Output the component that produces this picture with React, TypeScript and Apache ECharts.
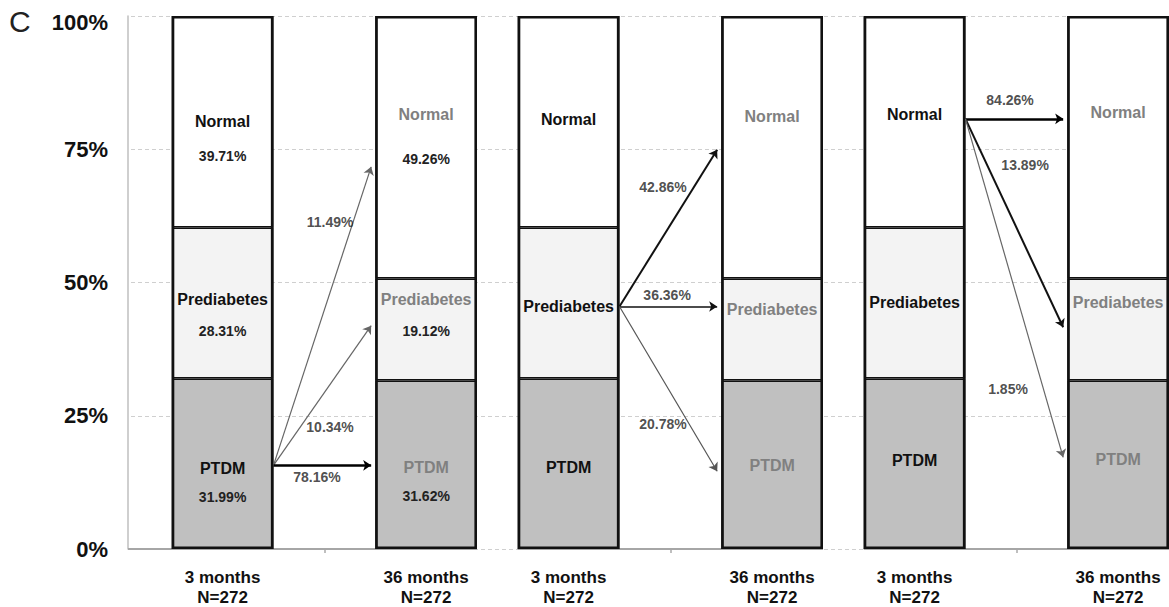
import React, { useEffect, useRef } from "react";
import * as echarts from "echarts";

// ---------------- data ----------------
const panelLetter = "C";
const periods = ["3 months", "36 months", "3 months", "36 months", "3 months", "36 months"];
const sampleSizes = ["N=272", "N=272", "N=272", "N=272", "N=272", "N=272"];
const stateNames = ["PTDM", "Prediabetes", "Normal"];
const ptdmPct = [31.99, 31.62, 31.99, 31.62, 31.99, 31.62];
const prediabetesPct = [28.31, 19.12, 28.31, 19.12, 28.31, 19.12];
const normalPct = [39.71, 49.26, 39.71, 49.26, 39.71, 49.26];
const showSegmentPct = [true, true, false, false, false, false];
const yTickValues = [0, 25, 50, 75, 100];

// transitions (arrows) between 3-month and 36-month bars
const transFromBar = [0, 0, 0, 2, 2, 2, 4, 4, 4];
const transToBar = [1, 1, 1, 3, 3, 3, 5, 5, 5];
const transFromY = [15.7, 15.7, 15.7, 45.5, 45.5, 45.5, 80.7, 80.7, 80.7];
const transToY = [71.7, 41.9, 15.7, 74.9, 45.5, 14.6, 80.7, 41.6, 17.2];
const transLabels = ["11.49%", "10.34%", "78.16%", "42.86%", "36.36%", "20.78%", "84.26%", "13.89%", "1.85%"];
const transLabelX = [9.28, 9.28, 8.64, 25.64, 25.84, 25.64, 42.69, 43.43, 42.59];
const transLabelY = [61.4, 22.8, 13.5, 68.0, 47.6, 23.4, 84.3, 72.1, 30.1];

// ---------------- layout / style ----------------
const CHART_W = 1169;
const CHART_H = 607;
const GRID_LEFT = 131;
const GRID_TOP = 16;
const GRID_BOTTOM = 57;
const AXIS_SHIFT = 3;
const SLOT_COUNT = 51;
const BAR_SLOT = [4, 14, 21, 31, 38, 48];
const BAR_HALF = 2.5;
const ARROW_BACK = 0.2;
const FONT = '"Liberation Sans", Arial, sans-serif';

const segColors = ["#c0c0c0", "#f3f3f3", "#ffffff"];
const labelDy = [
  [19, 17, 3.5, 1, -3.5, -5.5],
  [12, -14.5, 3, -20, -1, -27],
  [17, -10.5, -2, -30.5, -7, -34.5],
];
const labelGap = [
  [29, 29, 20, 20, 20, 20],
  [32, 31, 20, 20, 20, 20],
  [35, 44, 20, 20, 20, 20],
];
const arrowWidth = [1.2, 1.2, 2.5, 2, 1.5, 1.2, 2.5, 2, 1.2];
const arrowColor = ["#666", "#666", "#000", "#111", "#111", "#555", "#000", "#111", "#666"];

function buildOption() {
  const slotPx = (CHART_W - GRID_LEFT) / SLOT_COUNT;
  const categories = new Array(SLOT_COUNT).fill("");
  BAR_SLOT.forEach((s, i) => {
    categories[s] = periods[i] + "\n" + sampleSizes[i];
  });
  const tickSlots = [0, 2, 4].map((b) => (BAR_SLOT[b] + BAR_SLOT[b + 1]) / 2);
  const barWidth = BAR_HALF * 2 * 100 + "%";

  const segs = [ptdmPct, prediabetesPct, normalPct];
  const barSeries = segs.map((vals, si) => {
    const data: any[] = new Array(SLOT_COUNT).fill(null);
    vals.forEach((v, bi) => {
      const is36 = bi % 2 === 1;
      const gap = labelGap[si][bi];
      data[BAR_SLOT[bi]] = {
        value: v,
        label: {
          show: true,
          position: "inside",
          offset: [0, labelDy[si][bi]],
          formatter: showSegmentPct[bi]
            ? `{n|${stateNames[si]}}\n{p|${v.toFixed(2)}%}`
            : `{n|${stateNames[si]}}`,
          rich: {
            n: {
              fontFamily: FONT,
              fontSize: 16,
              fontWeight: "bold",
              color: is36 ? "#808080" : "#111",
              lineHeight: gap,
            },
            p: {
              fontFamily: FONT,
              fontSize: 14,
              fontWeight: "bold",
              color: "#222",
              lineHeight: gap,
            },
          },
        },
      };
    });
    return {
      type: "bar",
      name: stateNames[si],
      stack: "total",
      xAxisIndex: 0,
      yAxisIndex: 0,
      barWidth,
      barGap: "-100%",
      data,
      itemStyle: { color: segColors[si], borderColor: "#111", borderWidth: 1.5 },
      z: 3,
    };
  });

  // outer outline of each bar (sum of its segments)
  const outlineData: any[] = new Array(SLOT_COUNT).fill(null);
  BAR_SLOT.forEach((s, bi) => {
    outlineData[s] = +(ptdmPct[bi] + prediabetesPct[bi] + normalPct[bi]).toFixed(2);
  });
  const outlineSeries = {
    type: "bar",
    name: "outline",
    xAxisIndex: 0,
    yAxisIndex: 0,
    barWidth,
    barGap: "-100%",
    data: outlineData,
    itemStyle: { color: "rgba(0,0,0,0)", borderColor: "#111", borderWidth: 2.6 },
    label: { show: false },
    silent: true,
    z: 4,
  };

  const arrowData = transLabels.map((_, i) => ({
    coords: [
      [BAR_SLOT[transFromBar[i]] + BAR_HALF, transFromY[i]],
      [BAR_SLOT[transToBar[i]] - BAR_HALF - ARROW_BACK, transToY[i]],
    ],
    lineStyle: { color: arrowColor[i], width: arrowWidth[i], opacity: 1 },
  }));

  const axisStart = -0.5 - AXIS_SHIFT / slotPx;
  const baseData = [0, 2, 4].map((b) => ({
    coords: [
      [b === 0 ? axisStart : BAR_SLOT[b] - BAR_HALF, 0],
      [BAR_SLOT[b + 1] + BAR_HALF, 0],
    ],
  }));

  const yLabelStyle = {
    fontFamily: FONT,
    fontSize: 22,
    fontWeight: "bold",
    color: "#111",
  };

  return {
    animation: false,
    textStyle: { fontFamily: FONT },
    graphic: [
      {
        type: "text",
        left: 9,
        top: 6,
        style: { text: panelLetter, font: `30px ${FONT}`, fill: "#222" },
      },
    ],
    grid: { left: GRID_LEFT, right: 0, top: GRID_TOP, bottom: GRID_BOTTOM },
    xAxis: [
      {
        type: "category",
        data: categories,
        axisLine: { show: false },
        axisTick: {
          show: true,
          alignWithLabel: true,
          interval: (idx: number) => tickSlots.includes(idx),
          length: 4,
          lineStyle: { color: "#aaa", width: 1.5 },
        },
        axisLabel: {
          interval: 0,
          fontFamily: FONT,
          fontSize: 17,
          fontWeight: "bold",
          color: "#111",
          lineHeight: 20,
          margin: 18,
        },
      },
      {
        type: "value",
        show: false,
        min: -0.5,
        max: SLOT_COUNT - 0.5,
        splitLine: { show: false },
      },
    ],
    yAxis: {
      type: "value",
      min: yTickValues[0],
      max: yTickValues[yTickValues.length - 1],
      interval: 25,
      offset: AXIS_SHIFT,
      axisLine: { show: true, onZero: false, lineStyle: { color: "#bfbfbf", width: 1.5 } },
      axisTick: { show: false },
      splitLine: { show: true, lineStyle: { color: "#cfcfcf", type: [4, 3], width: 1 } },
      axisLabel: {
        formatter: (v: number) => (v === 100 ? `{t|${v}%}` : `{d|${v}%}`),
        margin: 20,
        rich: {
          t: { ...yLabelStyle, lineHeight: 34, verticalAlign: "bottom" },
          d: { ...yLabelStyle },
        },
      },
    },
    series: [
      {
        type: "lines",
        coordinateSystem: "cartesian2d",
        xAxisIndex: 1,
        yAxisIndex: 0,
        clip: false,
        symbol: ["none", "none"],
        lineStyle: { color: "#a6a6a6", width: 2, opacity: 1 },
        data: baseData,
        z: 1,
      },
      ...barSeries,
      outlineSeries,
      {
        type: "lines",
        coordinateSystem: "cartesian2d",
        xAxisIndex: 1,
        yAxisIndex: 0,
        symbol: ["none", "arrow"],
        symbolSize: 8,
        data: arrowData,
        z: 5,
      },
      {
        type: "scatter",
        xAxisIndex: 1,
        yAxisIndex: 0,
        symbolSize: 1,
        itemStyle: { color: "rgba(0,0,0,0)" },
        data: transLabels.map((t, i) => ({ name: t, value: [transLabelX[i], transLabelY[i]] })),
        label: {
          show: true,
          position: "inside",
          formatter: "{b}",
          fontFamily: FONT,
          fontSize: 14,
          fontWeight: "bold",
          color: "#222",
        },
        z: 6,
      },
    ],
  };
}

export default function App() {
  const ref = useRef<HTMLDivElement>(null);
  useEffect(() => {
    if (!ref.current) return;
    const chart = echarts.init(ref.current, null, { renderer: "svg" });
    chart.setOption(buildOption() as any);
    return () => chart.dispose();
  }, []);
  return (
    <div
      ref={ref}
      style={{ position: "absolute", left: 0, top: 0, width: CHART_W, height: CHART_H }}
    />
  );
}
